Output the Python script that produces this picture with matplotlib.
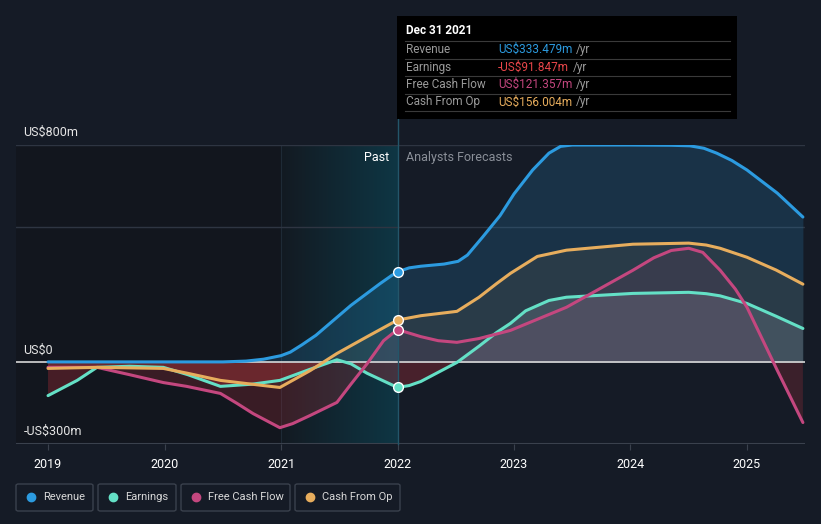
import numpy as np
import matplotlib.pyplot as plt
from matplotlib.colors import LinearSegmentedColormap
from matplotlib.patches import FancyBboxPatch, Rectangle

plt.rcParams['font.family'] = ['Roboto', 'DejaVu Sans']

# data (US$m)
rev_x = [2019.0, 2019.5, 2020.0, 2020.5, 2020.7, 2020.85, 2021.0, 2021.08, 2021.18, 2021.3, 2021.6, 2021.85, 2021.95,
         2022.0, 2022.1, 2022.2, 2022.4, 2022.52, 2022.6, 2022.73, 2022.88, 2023.0, 2023.16, 2023.3, 2023.4, 2023.5,
         2024.0, 2024.35, 2024.51, 2024.63, 2024.74, 2024.87, 2025.0, 2025.26, 2025.48]
rev_y = [2, 2, 2, 2, 5, 12, 25, 38, 65, 100, 210, 290, 320,
         333, 348, 354, 362, 372, 395, 461, 540, 620, 708, 770, 795, 800,
         800, 799, 797, 788, 770, 743, 708, 623, 535]

earn_x = [2019.0, 2019.25, 2019.42, 2019.7, 2019.99, 2020.2, 2020.48, 2020.75, 2020.99, 2021.25, 2021.48, 2021.6,
          2021.74, 2022.0, 2022.1, 2022.2, 2022.51, 2022.7, 2022.85, 2022.97, 2023.1, 2023.3, 2023.45, 2024.02,
          2024.5, 2024.65, 2024.77, 2025.0, 2025.25, 2025.48]
earn_y = [-122, -66, -18, -14, -18, -45, -88, -80, -66, -25, 10, -5,
          -40, -92, -85, -70, 0, 60, 110, 144, 190, 228, 240, 254,
          258, 253, 245, 217, 170, 125]

fcf_x = [2019.0, 2019.42, 2019.7, 2019.99, 2020.19, 2020.48, 2020.62, 2020.76, 2020.99, 2021.1, 2021.25, 2021.48,
         2021.6, 2021.74, 2021.88, 2022.0, 2022.2, 2022.35, 2022.51, 2022.7, 2022.97, 2023.45, 2024.02, 2024.2,
         2024.35, 2024.5, 2024.62, 2024.77, 2024.9, 2025.0, 2025.26, 2025.48]
fcf_y = [-18, -18, -45, -74, -88, -114, -150, -188, -240, -225, -195, -147,
         -80, -4, 80, 121, 95, 80, 74, 88, 118, 203, 339, 385,
         412, 420, 405, 339, 270, 203, -29, -221]

cfo_x = [2019.0, 2019.42, 2019.99, 2020.2, 2020.48, 2020.75, 2020.99, 2021.25, 2021.48, 2021.74, 2022.0,
         2022.2, 2022.51, 2022.7, 2022.85, 2022.97, 2023.2, 2023.45, 2024.02, 2024.5, 2024.65, 2024.77, 2025.0,
         2025.25, 2025.48]
cfo_y = [-22, -18, -22, -40, -66, -80, -92, -30, 33, 95, 156,
         172, 188, 240, 290, 328, 390, 413, 435, 439, 432, 420, 387,
         340, 288]

years = [2019, 2020, 2021, 2022, 2023, 2024, 2025]
legend_names = ['Revenue', 'Earnings', 'Free Cash Flow', 'Cash From Op']
tip_values = ['US$333.479m', '-US$91.847m', 'US$121.357m', 'US$156.004m']

c_rev = '#2c9be0'
c_earn = '#64e0c6'
c_fcf = '#c4477f'
c_cfo = '#e7ad5d'
c_red = '#e8464a'
bg = '#151b26'

fig = plt.figure(figsize=(8.21, 5.24), dpi=100, facecolor=bg)
ax = fig.add_axes([16 / 821, 1 - 444 / 524, (805 - 16) / 821, (444 - 145) / 524])
ax.set_facecolor(bg)
ax.set_xlim(2018.725, 2025.498)
ax.set_ylim(-300, 800)

# past region darker
ax.axvspan(2018.725, 2022, color='#12161e', zorder=0)
# highlighted band 2021-2022
cmap = LinearSegmentedColormap.from_list('band', ['#131a22', '#0e3644'])
grad = np.linspace(0, 1, 200).reshape(1, -1)
ax.imshow(grad, extent=[2021, 2022, -300, 800], aspect='auto', cmap=cmap, zorder=0.5)
ax.axvline(2021, color='#1e2a36', lw=0.8, zorder=0.6)

# grid lines
for g in [500, 800]:
    ax.axhline(g, color='#2e3542', lw=1, zorder=1)
ax.axhline(-300, color='#3a414d', lw=1.5, zorder=1)

# fills
ax.fill_between(rev_x, rev_y, 0, color=c_rev, alpha=0.18, lw=0, zorder=2)
ax.fill_between(cfo_x, cfo_y, 0, color=c_cfo, alpha=0.08, lw=0, zorder=2)
ax.fill_between(earn_x, earn_y, 0, where=np.array(earn_y) >= 0, interpolate=True,
                color='#9aa3b0', alpha=0.22, lw=0, zorder=2)
ax.fill_between(fcf_x, fcf_y, 0, where=np.array(fcf_y) >= 0, interpolate=True,
                color=c_fcf, alpha=0.10, lw=0, zorder=2)
ax.fill_between(fcf_x, fcf_y, 0, where=np.array(fcf_y) <= 0, interpolate=True,
                color='#b0303a', alpha=0.25, lw=0, zorder=2)
ax.fill_between(earn_x, earn_y, 0, where=np.array(earn_y) <= 0, interpolate=True,
                color='#c0303a', alpha=0.30, lw=0, zorder=2)

ax.axhline(0, color='#d8d8d8', lw=1.2, zorder=3)

# lines
for xs, ys, c in [(rev_x, rev_y, c_rev), (earn_x, earn_y, c_earn), (fcf_x, fcf_y, c_fcf), (cfo_x, cfo_y, c_cfo)]:
    ax.plot(xs, ys, color=c, lw=2.2, zorder=4, solid_capstyle='round', solid_joinstyle='round')
    i = xs.index(2022.0)
    ax.plot(xs[i], ys[i], 'o', ms=7, mfc=c, mec='white', mew=1, zorder=6)

# divider at 2022
ax.plot([2022, 2022], [-300, 1150], color='#23566a', lw=1, zorder=5, clip_on=False)

ax.text(2021.93, 755, 'Past', color='white', fontsize=9, ha='right', va='center', zorder=7)
ax.text(2022.07, 755, 'Analysts Forecasts', color='#8a8f98', fontsize=9, ha='left', va='center', zorder=7)

# y labels
for val, lab in [(800, 'US$800m'), (0, 'US$0'), (-300, '-US$300m')]:
    ax.text(2018.79, val + 45, lab, color='#e6e6e6', fontsize=9, ha='left', va='center', zorder=7)

ax.set_xticks(years)
ax.set_xticklabels([str(y) for y in years], color='white', fontsize=9)
ax.tick_params(axis='x', length=4, color='#3a414d', pad=6)
ax.set_yticks([])
for s in ax.spines.values():
    s.set_visible(False)

# tooltip
fig.patches.append(Rectangle((397 / 821, 1 - 119 / 524), 340 / 821, 103 / 524, transform=fig.transFigure,
                             facecolor='black', edgecolor='none', zorder=10))
fig.text(406 / 821, 1 - 31 / 524, 'Dec 31 2021', color='white', fontsize=8.5, fontweight='bold',
         va='center', zorder=11)
row_cols = [c_rev, c_red, c_fcf, c_cfo]
for k in range(4):
    yl = 41 + k * 17.5
    fig.add_artist(plt.Line2D([405 / 821, 730 / 821], [1 - yl / 524, 1 - yl / 524], color='#3a3a3a', lw=0.8,
                              zorder=11))
    yc = 1 - (yl + 8.5) / 524
    fig.text(406 / 821, yc, legend_names[k], color='#9a9a9a', fontsize=8.5, va='center', zorder=11)
    t = fig.text(498 / 821, yc, tip_values[k], color=row_cols[k], fontsize=8.5, va='center', zorder=11)
    fig.canvas.draw()
    bb = t.get_window_extent()
    fig.text(bb.x1 / 821 + 4 / 821, yc, '/yr', color='#9a9a9a', fontsize=8.5, va='center', zorder=11)
fig.add_artist(plt.Line2D([405 / 821, 730 / 821], [1 - 111 / 524, 1 - 111 / 524], color='#3a3a3a', lw=0.8,
                          zorder=11))

# legend boxes
boxes = [(16, 93), (98, 176), (181, 290), (295, 400)]
for (x0, x1), name, c in zip(boxes, legend_names, [c_rev, c_earn, c_fcf, c_cfo]):
    fig.patches.append(FancyBboxPatch((x0 / 821, 1 - 511 / 524), (x1 - x0) / 821, 27 / 524,
                                      boxstyle='round,pad=0,rounding_size=0.003', transform=fig.transFigure,
                                      facecolor='none', edgecolor='#3a414d', lw=1))
    fig.add_artist(plt.Line2D([(x0 + 15) / 821], [1 - 497 / 524], marker='o', ms=6, color=c, mec=c))
    fig.text((x0 + 27) / 821, 1 - 497 / 524, name, color='#d8d8d8', fontsize=8, va='center')

fig.savefig('out.png', dpi=100, facecolor=bg)
